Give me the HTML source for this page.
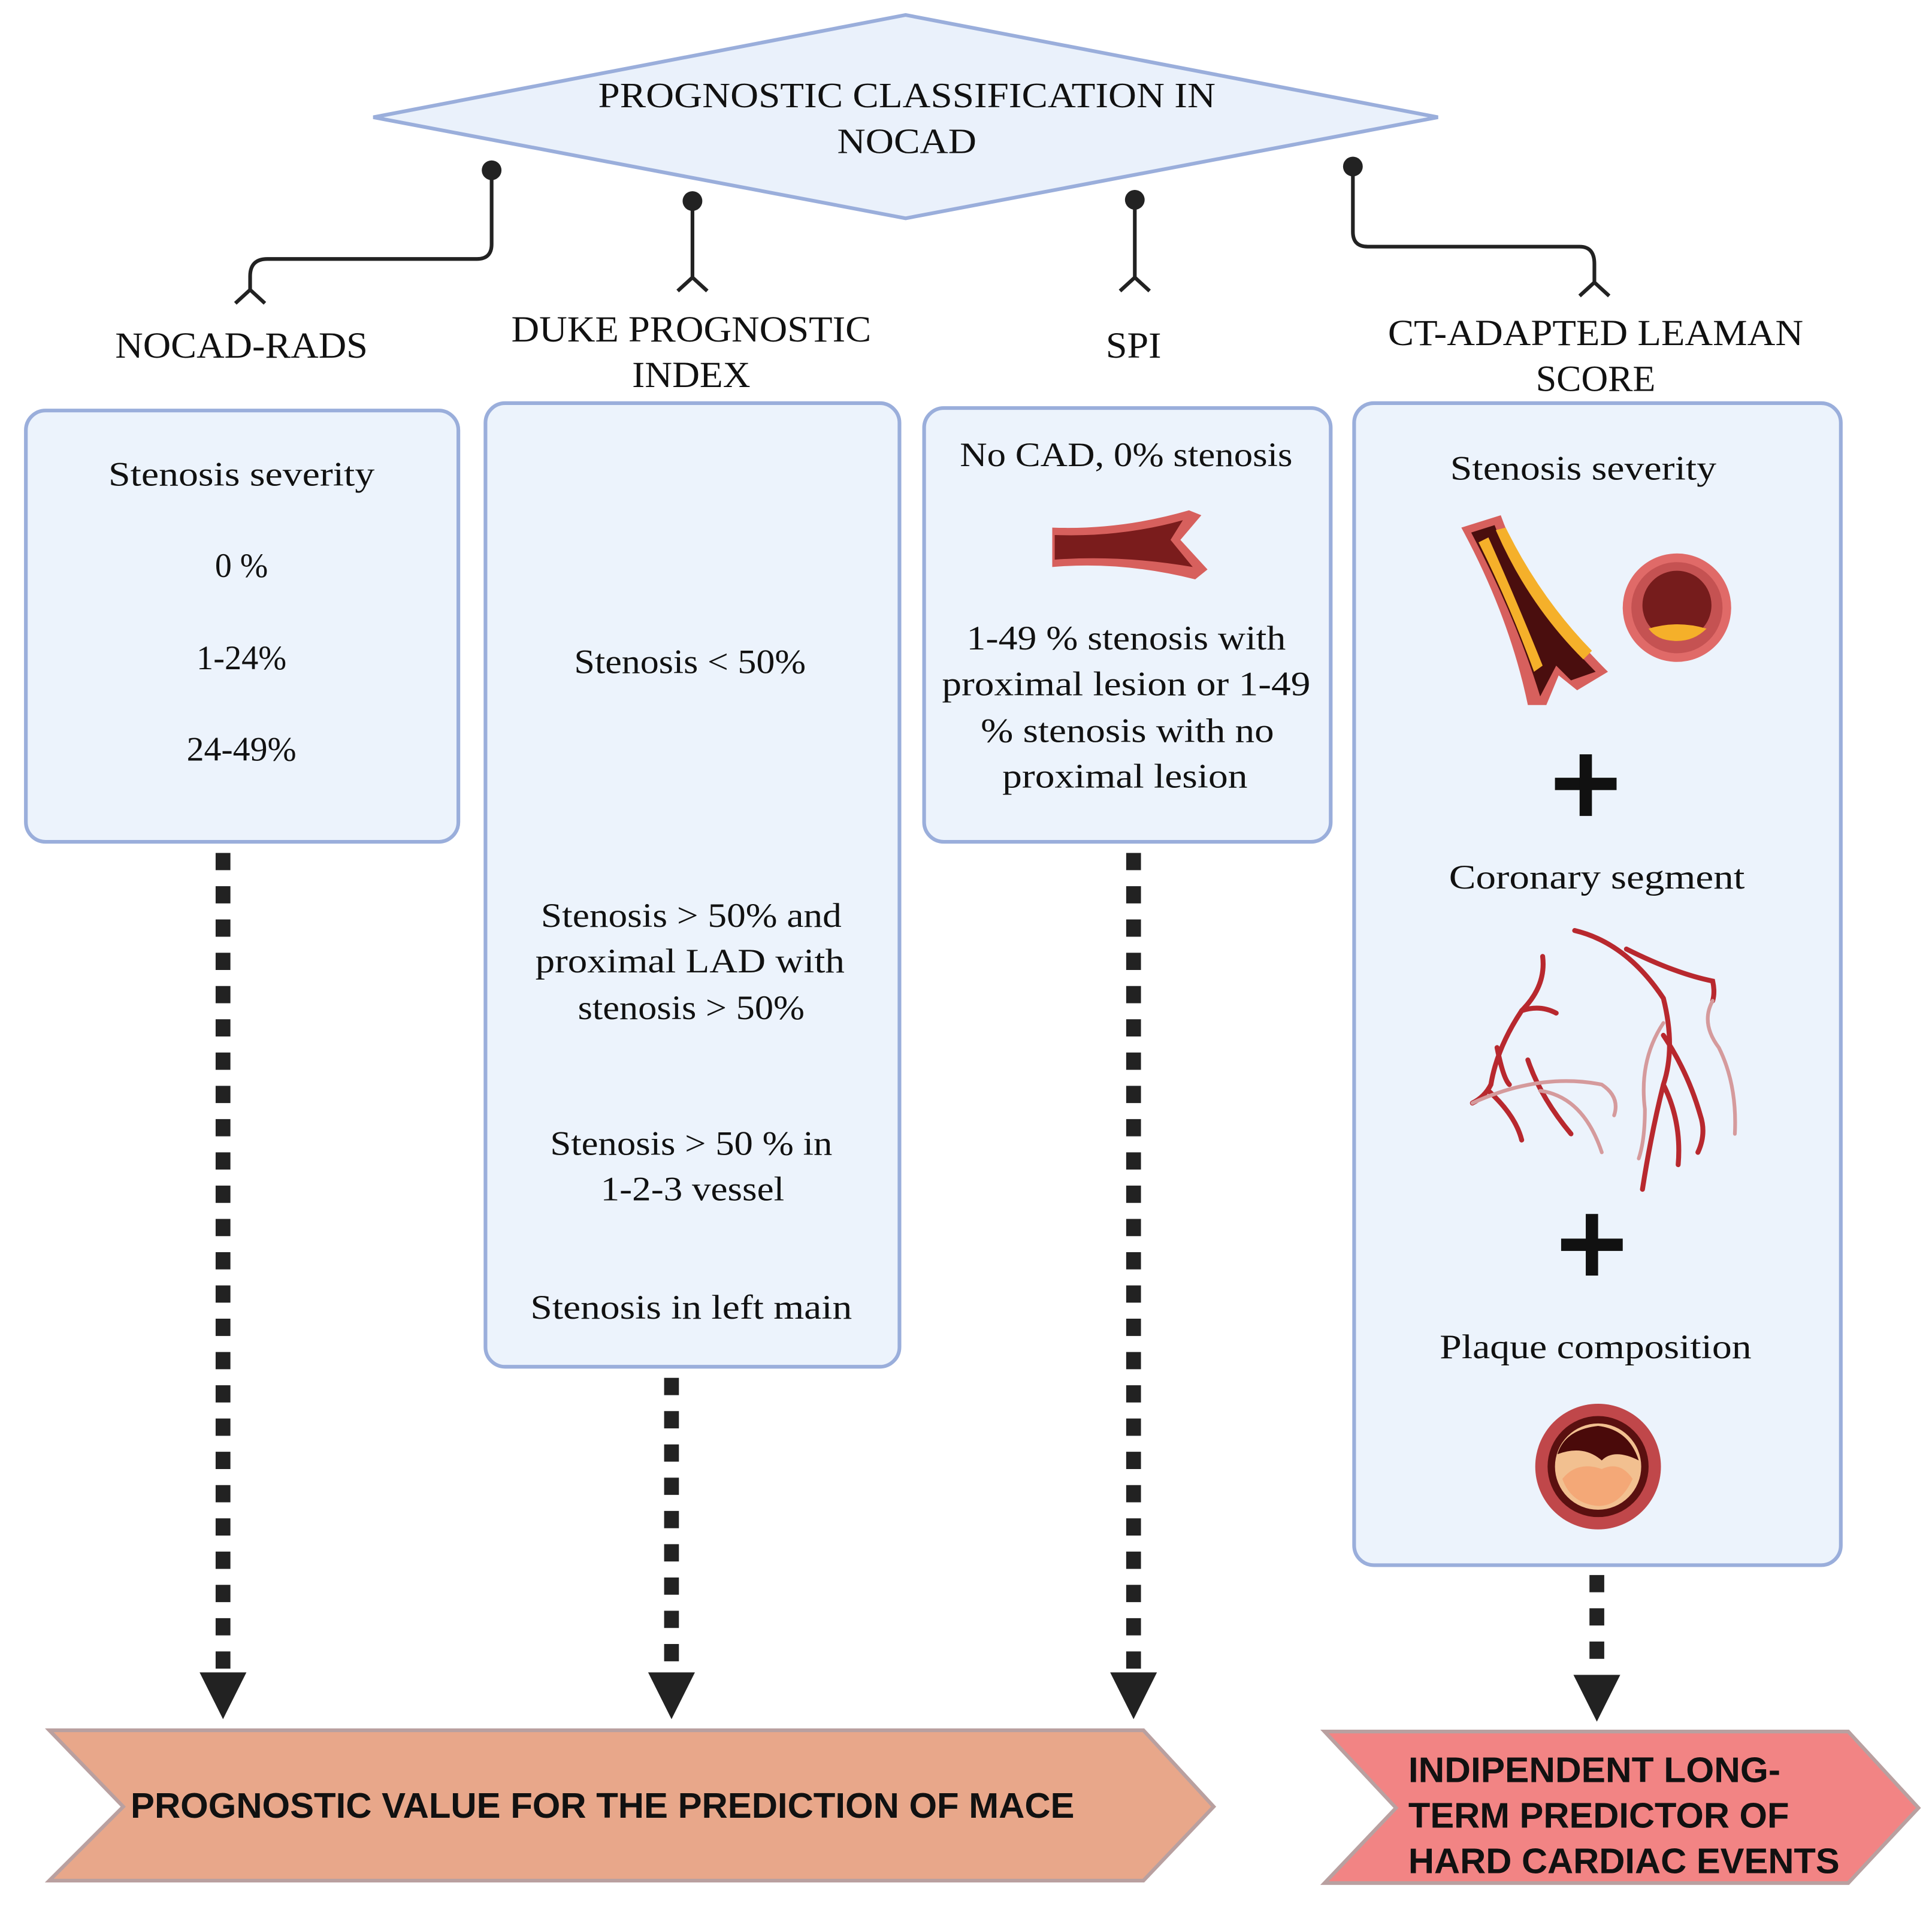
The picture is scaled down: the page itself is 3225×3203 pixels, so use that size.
<!DOCTYPE html>
<html><head><meta charset="utf-8"><style>html,body{margin:0;padding:0;background:#fff}svg{display:block}</style></head>
<body>
<svg width="3225" height="3203" viewBox="0 0 1568 1557" xmlns="http://www.w3.org/2000/svg">
<rect width="1568" height="1557" fill="#fff"/>
<g font-family="Liberation Serif, serif" fill="#111" text-anchor="middle" lengthAdjust="spacingAndGlyphs">
<polygon points="303,95 735,12 1167,95 735,177" fill="#eaf1fb" stroke="#9aaedb" stroke-width="3"/>
<text x="736" y="87" font-size="29" textLength="501" lengthAdjust="spacingAndGlyphs">PROGNOSTIC CLASSIFICATION IN</text>
<text x="736" y="124" font-size="29" textLength="113" lengthAdjust="spacingAndGlyphs">NOCAD</text>

<g fill="none" stroke="#222" stroke-width="3">
<path d="M399,138 V198 Q399,210 387,210 H217 Q203,210 203,224 V236 M191,246 L203,235 L215,246"/>
<path d="M562,163 V226 M550,236 L562,225 L574,236"/>
<path d="M921,162 V226 M909,236 L921,225 L933,236"/>
<path d="M1098,135 V188 Q1098,200 1110,200 H1282 Q1294,200 1294,214 V229 M1282,240 L1294,229 L1306,240"/>
</g>
<g fill="#222"><circle cx="399" cy="138" r="8"/><circle cx="562" cy="163" r="8"/><circle cx="921" cy="162" r="8"/><circle cx="1098" cy="135" r="8"/></g>

<g font-size="30">
<text x="196" y="290" textLength="205" lengthAdjust="spacingAndGlyphs">NOCAD-RADS</text>
<text x="561" y="277" textLength="292" lengthAdjust="spacingAndGlyphs">DUKE PROGNOSTIC</text><text x="561" y="314" textLength="96" lengthAdjust="spacingAndGlyphs">INDEX</text>
<text x="920" y="290" textLength="45" lengthAdjust="spacingAndGlyphs">SPI</text>
<text x="1295" y="280" textLength="337" lengthAdjust="spacingAndGlyphs">CT-ADAPTED LEAMAN</text><text x="1295" y="317" textLength="97" lengthAdjust="spacingAndGlyphs">SCORE</text>
</g>

<g fill="#ecf3fc" stroke="#9aaedb" stroke-width="3">
<rect x="21" y="333" width="351" height="350" rx="16"/>
<rect x="394" y="327" width="336" height="782" rx="16"/>
<rect x="750" y="331" width="330" height="352" rx="16"/>
<rect x="1099" y="327" width="395" height="943" rx="16"/>
</g>

<g font-size="28">
<text x="196" y="394" textLength="216" lengthAdjust="spacingAndGlyphs">Stenosis severity</text>
<text x="196" y="468" textLength="43" lengthAdjust="spacingAndGlyphs">0 %</text>
<text x="196" y="543" textLength="73" lengthAdjust="spacingAndGlyphs">1-24%</text>
<text x="196" y="617" textLength="89" lengthAdjust="spacingAndGlyphs">24-49%</text>

<text x="560" y="546" textLength="188" lengthAdjust="spacingAndGlyphs">Stenosis &lt; 50%</text>
<text x="561" y="752" textLength="244" lengthAdjust="spacingAndGlyphs">Stenosis &gt; 50% and</text>
<text x="560" y="789" textLength="251" lengthAdjust="spacingAndGlyphs">proximal LAD with</text>
<text x="561" y="827" textLength="184" lengthAdjust="spacingAndGlyphs">stenosis &gt; 50%</text>
<text x="561" y="937" textLength="229" lengthAdjust="spacingAndGlyphs">Stenosis &gt; 50 % in</text>
<text x="562" y="974" textLength="149" lengthAdjust="spacingAndGlyphs">1-2-3 vessel</text>
<text x="561" y="1070" textLength="261" lengthAdjust="spacingAndGlyphs">Stenosis in left main</text>

<text x="914" y="378" textLength="270" lengthAdjust="spacingAndGlyphs">No CAD, 0% stenosis</text>
<text x="914" y="527" textLength="259" lengthAdjust="spacingAndGlyphs">1-49 % stenosis with</text>
<text x="914" y="564" textLength="299" lengthAdjust="spacingAndGlyphs">proximal lesion or 1-49</text>
<text x="915" y="602" textLength="238" lengthAdjust="spacingAndGlyphs">% stenosis with no</text>
<text x="913" y="639" textLength="199" lengthAdjust="spacingAndGlyphs">proximal lesion</text>

<text x="1285" y="389" textLength="216" lengthAdjust="spacingAndGlyphs">Stenosis severity</text>
<text x="1296" y="721" textLength="240" lengthAdjust="spacingAndGlyphs">Coronary segment</text>
<text x="1295" y="1102" textLength="253" lengthAdjust="spacingAndGlyphs">Plaque composition</text>
</g>
</g>

<!-- SPI vessel -->
<path d="M854,428 Q910,430 965,414 L975,418 L958,438 L980,462 L970,470 Q910,455 854,460 Z" fill="#d7605d"/>
<path d="M856,434 Q910,436 960,422 L950,438 L968,460 Q910,450 856,454 Z" fill="#7a1c1c"/>

<!-- Leaman vessel -->
<path d="M1186,428 L1218,418 Q1240,480 1305,545 L1280,560 L1265,548 L1255,572 L1240,572 Q1225,500 1186,428 Z" fill="#d7605d"/>
<path d="M1194,432 L1213,426 Q1236,485 1295,545 L1275,552 L1263,540 L1250,565 Q1230,500 1194,432 Z" fill="#4a0e0e"/>
<path d="M1200,440 Q1225,490 1245,545 L1252,540 Q1232,490 1208,436 Z M1214,430 Q1240,490 1285,535 L1292,528 Q1250,485 1222,428 Z" fill="#f5b02a"/>
<circle cx="1361" cy="493" r="44" fill="#e06a68"/>
<circle cx="1361" cy="493" r="37" fill="#c55252"/>
<circle cx="1361" cy="491" r="28" fill="#761c1c"/>
<path d="M1338,510 Q1361,503 1385,510 Q1375,520 1361,520 Q1345,520 1338,510 Z" fill="#f5b02a"/>

<!-- pluses -->
<g fill="#111"><rect x="1262" y="631" width="50" height="10"/><rect x="1282" y="612" width="10" height="50"/>
<rect x="1267" y="1005" width="50" height="10"/><rect x="1287" y="985" width="10" height="50"/></g>

<!-- coronary tree -->
<g fill="none" stroke="#b8282e" stroke-width="4" stroke-linecap="round">
<path d="M1252,776 Q1255,800 1235,820 Q1215,850 1210,880 Q1205,890 1195,895"/>
<path d="M1235,820 Q1250,815 1263,822"/>
<path d="M1215,850 Q1220,875 1225,880"/>
<path d="M1208,885 Q1230,905 1235,925"/>
<path d="M1278,755 Q1320,765 1350,810 Q1360,850 1350,880 Q1340,920 1333,965"/>
<path d="M1320,770 Q1360,790 1390,796 Q1392,805 1390,812"/>
<path d="M1350,840 Q1370,870 1380,905 Q1385,920 1378,935"/>
<path d="M1350,880 Q1365,910 1362,945"/>
<path d="M1240,860 Q1250,890 1275,920"/>
</g>
<g fill="none" stroke="#d59a9c" stroke-width="3" stroke-linecap="round">
<path d="M1195,895 Q1250,870 1300,880 Q1315,890 1310,905"/>
<path d="M1390,812 Q1380,830 1395,850 Q1410,880 1408,920"/>
<path d="M1350,830 Q1330,860 1335,900 Q1335,925 1330,940"/>
<path d="M1250,885 Q1285,890 1300,935"/>
</g>

<!-- plaque circle -->
<circle cx="1297" cy="1190" r="51" fill="#c0474a"/>
<circle cx="1297" cy="1190" r="41" fill="#5a1010"/>
<circle cx="1297" cy="1190" r="35" fill="#f2c090"/>
<path d="M1264,1180 Q1270,1160 1297,1157 Q1322,1160 1330,1185 Q1310,1175 1300,1185 Q1285,1172 1264,1180 Z" fill="#4a0a0a"/>
<path d="M1268,1200 Q1280,1185 1300,1192 Q1315,1185 1325,1200 Q1315,1222 1297,1222 Q1275,1220 1268,1200 Z" fill="#f4a877"/>

<!-- dashed connectors -->
<g stroke="#222" stroke-width="12" stroke-dasharray="14 13">
<line x1="181" y1="692" x2="181" y2="1355"/>
<line x1="545" y1="1118" x2="545" y2="1355"/>
<line x1="920" y1="692" x2="920" y2="1355"/>
<line x1="1296" y1="1278" x2="1296" y2="1355"/>
</g>
<g fill="#222">
<polygon points="162,1357 200,1357 181,1395"/>
<polygon points="526,1357 564,1357 545,1395"/>
<polygon points="901,1357 939,1357 920,1395"/>
<polygon points="1277,1359 1315,1359 1296,1397"/>
</g>

<!-- bottom chevrons -->
<polygon points="40,1404 928,1404 985,1466 928,1526 40,1526 100,1466" fill="#e8a78a" stroke="#b9a0a0" stroke-width="3"/>
<polygon points="1075,1405 1500,1405 1557,1467 1500,1528 1075,1528 1133,1467" fill="#f28484" stroke="#b9a0a0" stroke-width="3"/>
<g font-family="Liberation Sans, sans-serif" font-weight="bold" fill="#111" font-size="29">
<text x="106" y="1475" textLength="766" lengthAdjust="spacingAndGlyphs">PROGNOSTIC VALUE FOR THE PREDICTION OF MACE</text>
<text x="1143" y="1446" textLength="302" lengthAdjust="spacingAndGlyphs">INDIPENDENT LONG-</text>
<text x="1143" y="1483" textLength="309" lengthAdjust="spacingAndGlyphs">TERM PREDICTOR OF</text>
<text x="1143" y="1520" textLength="350" lengthAdjust="spacingAndGlyphs">HARD CARDIAC EVENTS</text>
</g>
</svg>
</body></html>
